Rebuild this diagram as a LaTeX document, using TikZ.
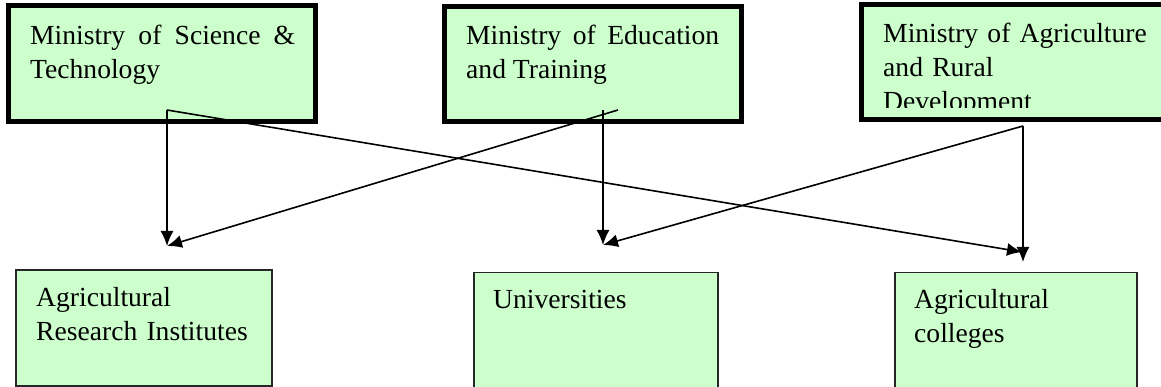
\documentclass[tikz,border=0pt]{standalone}
\usepackage{fontspec}
\setmainfont{Liberation Serif}
\usetikzlibrary{arrows.meta,calc}

\definecolor{boxgreen}{HTML}{CCFFCC}
\tikzset{
  ministry/.style={rectangle, draw=black, line width=5pt, fill=boxgreen, inner sep=0pt, anchor=north west},
  target/.style={rectangle, draw=black!85, line width=1.5pt, fill=boxgreen, inner sep=0pt, anchor=north west},
  boxtext/.style={anchor=base west, inner sep=0pt, font=\fontsize{27.6}{34}\selectfont},
  link/.style={line width=1.6pt, -{Latex[length=15pt,width=13pt]}}
}

\begin{document}
\begin{tikzpicture}[x=1pt,y=-1pt]
			\clip (0,0) rectangle (1161,387);
			% ministries
			\node[ministry, minimum width=307pt, minimum height=116pt] (sci) at (6,3) {};
			\node[ministry, minimum width=297pt, minimum height=115pt] (edu) at (442,4) {};
			\node[ministry, minimum width=320pt, minimum height=115pt] (agri) at (859,2) {};
			\node[boxtext, text width=265pt, align=justify] (scitext) at ($(sci.north west)+(24,42)$)
				{Ministry of Science \&\linebreak Technology};
			\node[boxtext, text width=253pt, align=justify] (edutext) at ($(edu.north west)+(24,41)$)
				{Ministry of Education\linebreak and Training};
			\begin{scope}
				\clip (861,0) rectangle (1161,108);
				\node[boxtext, text width=270pt, align=left] (agritext) at ($(agri.north west)+(24,41)$)
					{Ministry of Agriculture\\ and Rural\\ Development};
			\end{scope}
			% receivers
			\node[target, minimum width=256pt, minimum height=116pt] (ari) at (15,269) {};
			\node[target, minimum width=244pt, minimum height=130pt] (uni) at (473,271.5) {};
			\node[target, minimum width=242pt, minimum height=130pt] (col) at (894,271.5) {};
			\node[boxtext, text width=230pt, align=left] (aritext) at ($(ari.north west)+(21,37)$)
				{Agricultural\\ Research Institutes};
			\node[boxtext, text width=220pt, align=left] (unitext) at ($(uni.north west)+(20,37)$)
				{Universities};
			\node[boxtext, text width=220pt, align=left] (coltext) at ($(col.north west)+(20,37)$)
				{Agricultural\\ colleges};
			% connectors
			\coordinate (scistart) at (167,110);
			\coordinate (edustart) at (603,110);
			\coordinate (edudiag) at (618,110);
			\coordinate (agristart) at (1023,126);
			\coordinate (ariend) at (167,246);
			\coordinate (uniend) at (603,245);
			\coordinate (colend) at (1023,262);
			\coordinate (colside) at (1022,252);
			\path[link]
			(scistart) edge (ariend) edge (colside)
			(edustart) edge (uniend)
			(edudiag) edge (ariend)
			(agristart) edge (colend) edge (uniend);
		\end{tikzpicture}
\end{document}
